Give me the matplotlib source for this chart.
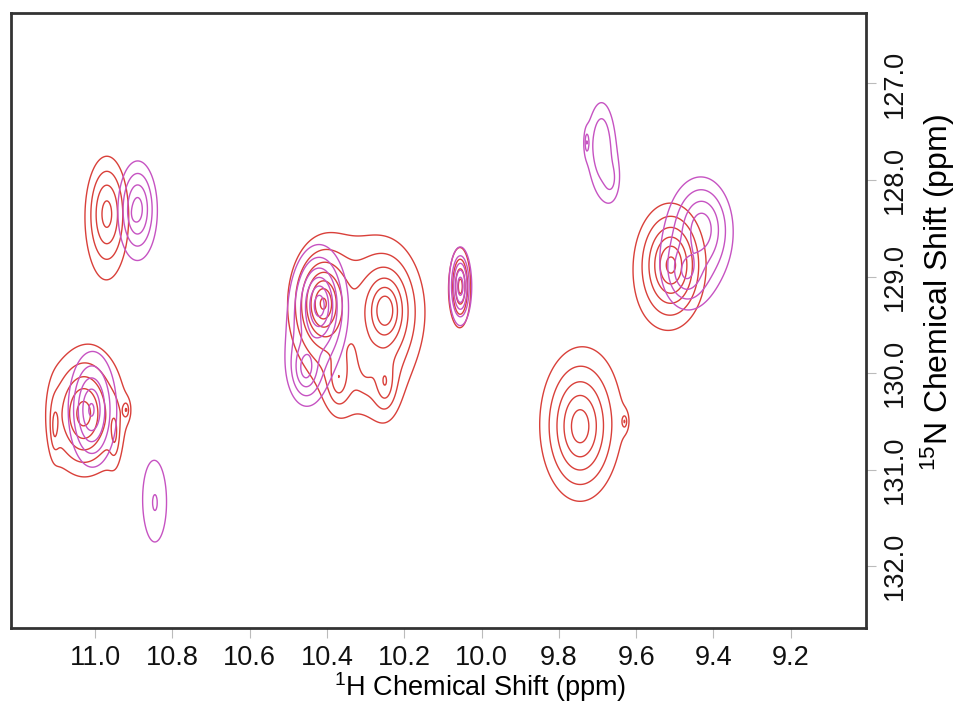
import numpy as np
import matplotlib
matplotlib.use("Agg")
import matplotlib.pyplot as plt

plt.rcParams['font.family'] = ['Liberation Sans', 'DejaVu Sans']
plt.rcParams['mathtext.fontset'] = 'custom'
plt.rcParams['mathtext.rm'] = 'Liberation Sans'
plt.rcParams['mathtext.it'] = 'Liberation Sans:italic'

# peak tables: 1H ppm, 15N ppm, width 1H, width 15N, height
red_h = [10.97, 11.03, 11.105, 10.95, 10.92, 10.41, 10.25, 10.37, 10.25, 10.30, 10.055, 9.745, 9.63, 9.51]
red_n = [128.35, 130.42, 130.55, 130.62, 130.38, 129.28, 129.35, 130.05, 130.10, 129.9, 129.10, 130.55, 130.5, 128.88]
red_wh = [0.033, 0.042, 0.008, 0.01, 0.006, 0.027, 0.03, 0.02, 0.02, 0.02, 0.014, 0.046, 0.005, 0.035]
red_wn = [0.36, 0.30, 0.18, 0.2, 0.06, 0.2, 0.22, 0.2, 0.2, 0.2, 0.21, 0.35, 0.05, 0.245]
red_amp = [3.3, 5.0, 1.3, 1.3, 1.3, 9.5, 8.5, 2.0, 2.0, 1.0, 3.0, 5.3, 1.3, 7.0]

mag_h = [10.89, 10.90, 11.01, 10.42, 10.455, 10.055, 9.69, 9.665, 9.728, 9.43, 9.47, 10.845]
mag_n = [128.30, 128.35, 130.38, 129.30, 129.95, 129.10, 127.63, 128.00, 127.61, 128.50, 128.95, 131.35]
mag_wh = [0.03, 0.005, 0.03, 0.027, 0.025, 0.013, 0.03, 0.02, 0.004, 0.045, 0.035, 0.04]
mag_wn = [0.30, 0.05, 0.29, 0.23, 0.2, 0.18, 0.4, 0.2, 0.08, 0.3, 0.22, 0.55]
mag_amp = [3.3, 1.0, 4.5, 7.5, 3.0, 5.5, 1.8, 0.8, 1.3, 3.5, 2.5, 1.3]

x_ticks = [11.0, 10.8, 10.6, 10.4, 10.2, 10.0, 9.8, 9.6, 9.4, 9.2]
y_ticks = [127.0, 128.0, 129.0, 130.0, 131.0, 132.0]

hx = np.linspace(9.0, 11.25, 1000)
ny = np.linspace(126.2, 132.7, 800)
H, N = np.meshgrid(hx, ny)


def spectrum(ph, pn, wh, wn, amp):
    z = np.zeros_like(H)
    for a, b, c, d, e in zip(ph, pn, wh, wn, amp):
        z += e / (1.0 + ((H - a) / c) ** 2 + ((N - b) / d) ** 2)
    return z


levels = 1.0 * 1.45 ** np.arange(10)

fig = plt.figure(figsize=(9.56, 7.05), dpi=100)
ax = fig.add_axes([0.0115, 0.109, 0.894, 0.8726])

ax.contour(H, N, spectrum(red_h, red_n, red_wh, red_wn, red_amp), levels=levels,
           colors='#d9403a', linewidths=1.0)
ax.contour(H, N, spectrum(mag_h, mag_n, mag_wh, mag_wn, mag_amp), levels=levels,
           colors='#c653c2', linewidths=1.0)

ax.set_xlim(11.218, 9.006)
ax.set_ylim(132.64, 126.27)

ax.set_xticks(x_ticks)
ax.set_xticklabels([f"{v:.1f}" for v in x_ticks])
ax.set_yticks(y_ticks)
ax.set_yticklabels([f"{v:.1f}" for v in y_ticks], rotation=90, va='center')
ax.yaxis.tick_right()
ax.yaxis.set_label_position('right')
ax.tick_params(axis='both', direction='out', length=7, width=0.8, color='#bbbbbb',
               labelsize=19.5, labelcolor='#111111', pad=5)

for s in ax.spines.values():
    s.set_color('#333333')
    s.set_linewidth(2)

ax.set_xlabel("$^{1}$H Chemical Shift (ppm)", fontsize=19.5, labelpad=0)
ax.set_ylabel("$^{15}$N Chemical Shift (ppm)", fontsize=23, labelpad=6)
ax.xaxis.set_label_coords(0.549, -0.068)
ax.yaxis.set_label_coords(1.062, 0.546)

fig.savefig("out.png", dpi=100)
